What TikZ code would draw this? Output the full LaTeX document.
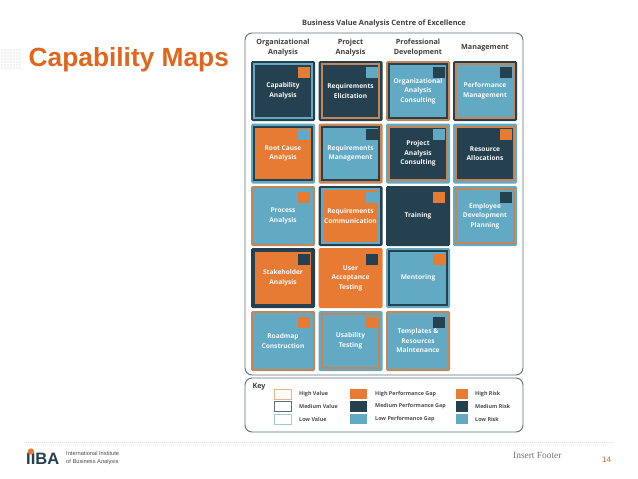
\documentclass[tikz,border=0pt]{standalone}
\usepackage{fontspec}
\setmainfont{Liberation Sans}
\newfontfamily\mapfont{Open Sans}
\newfontfamily\footfont{Liberation Serif}
\usepackage{xcolor}
\usetikzlibrary{calc}
\definecolor{maporange}{HTML}{E87B34}
\definecolor{mapdark}{HTML}{25404F}
\definecolor{mapblue}{HTML}{62A9C4}
\definecolor{mapring}{HTML}{C58557}
\definecolor{mapframe}{HTML}{5F6F78}
\definecolor{maptitle}{HTML}{E0661E}
\tikzset{
  line join=round,
  tileouter/.style={rounded corners=1.5pt, minimum width=64pt, minimum height=60pt, inner sep=0pt},
  tilering/.style={line width=2.4pt, minimum width=57.5pt, minimum height=53.5pt, inner sep=0pt},
  tilerisk/.style={minimum width=12pt, minimum height=11pt, inner sep=0pt},
  tiletext/.style={text=white!94!mapblue, align=center, font=\mapfont\bfseries\fontsize{6.6}{9.5}\selectfont},
  colhead/.style={text=black!75, align=center, font=\mapfont\bfseries\fontsize{7.2}{10.5}\selectfont},
  frame/.style={draw=mapframe, line width=0.9pt, rounded corners=7pt, fill=white},
  valuekey/.style={line width=0.9pt, fill=white, minimum width=17pt, minimum height=10pt, inner sep=0pt},
  gapkey/.style={minimum width=17pt, minimum height=10.5pt, inner sep=0pt},
  riskkey/.style={minimum width=12pt, minimum height=10.5pt, inner sep=0pt},
  keytext/.style={anchor=west, text=black!70, inner sep=0pt, font=\mapfont\bfseries\fontsize{5.4}{6}\selectfont},
  griddot/.style={fill=black!5}
}
\newcommand{\maptile}[8]{%
  \node[tileouter, fill=#4] (#1) at (#2,#3) {};
  \node[tilering, draw=#5, fill=#6] (#1inner) at (#2,#3) {};
  \node[tilerisk, fill=#7] (#1risk) at ($(#2,#3)+(21,-19)$) {};
  \node[tiletext] (#1text) at (#2,#3) {#8};
}
\begin{document}
\begin{tikzpicture}[x=1pt, y=-1pt]
  \useasboundingbox (0,0) rectangle (638,479);
  \fill[white] (0,0) rectangle (638,479);

  % dots next to the heading
  \foreach \i in {0,...,6} \foreach \j in {0,...,6}
    \fill[griddot] (0.5+3*\i,48.5+3*\j) rectangle ++(2,2);
  \node[anchor=west, inner sep=0pt, text=maptitle, font=\bfseries\fontsize{26.3}{30}\selectfont] (heading) at (28.5,60) {Capability Maps};

  % main map
  \node[text=black!75, font=\mapfont\bfseries\fontsize{7.4}{9}\selectfont] (maptitle) at (384,24) {Business Value Analysis Centre of Excellence};
  \draw[frame] (245,33) rectangle (523,375);
  \node[colhead] (orghead) at (283,47.5) {Organizational\\Analysis};
  \node[colhead] (projhead) at (350.5,47.5) {Project\\Analysis};
  \node[colhead] (devhead) at (418,47.5) {Professional\\Development};
  \node[colhead] (mgmthead) at (485,47.5) {Management};

  \maptile{capability}{283}{91}{mapdark}{mapblue}{mapdark}{maporange}{Capability\\Analysis}
  \maptile{elicitation}{350.5}{91}{mapdark}{mapring}{mapdark}{mapblue}{Requirements\\Elicitation}
  \maptile{orgconsult}{418}{91}{mapring}{mapdark}{mapblue}{mapdark}{Organizational\\Analysis\\Consulting}
  \maptile{performance}{485}{91}{mapdark}{mapring}{mapblue}{mapdark}{Performance\\Management}

  \maptile{rootcause}{283}{153.5}{mapblue}{mapdark}{maporange}{mapblue}{Root Cause\\Analysis}
  \maptile{reqmgmt}{350.5}{153.5}{mapring}{mapdark}{mapblue}{mapdark}{Requirements\\Management}
  \maptile{projconsult}{418}{153.5}{mapblue}{mapring}{mapdark}{mapblue}{Project\\Analysis\\Consulting}
  \maptile{resource}{485}{153.5}{mapblue}{mapring}{mapdark}{maporange}{Resource\\Allocations}

  \maptile{process}{283}{216}{mapring}{mapblue}{mapblue}{maporange}{Process\\Analysis}
  \maptile{reqcomm}{350.5}{216}{mapdark}{mapblue}{maporange}{mapblue}{Requirements\\Communication}
  \maptile{training}{418}{216}{mapdark}{mapdark}{mapdark}{maporange}{Training}
  \maptile{employee}{485}{216}{mapblue}{mapring}{mapblue}{mapdark}{Employee\\Development\\Planning}

  \maptile{stakeholder}{283}{278}{mapdark}{mapdark}{maporange}{mapdark}{Stakeholder\\Analysis}
  \maptile{acceptance}{350.5}{278}{maporange}{maporange}{maporange}{mapdark}{User\\Acceptance\\Testing}
  \maptile{mentoring}{418}{278}{mapblue}{mapdark}{mapblue}{maporange}{Mentoring}

  \maptile{roadmap}{283}{341}{mapring}{mapblue}{mapblue}{maporange}{Roadmap\\Construction}
  \maptile{usability}{350.5}{341}{mapblue}{mapring}{mapblue}{maporange}{Usability\\Testing}
  \maptile{templates}{418}{341}{mapring}{mapblue}{mapblue}{mapdark}{Templates \&\\Resources\\Maintenance}

  % key
  \draw[frame] (245,378) rectangle (523,432);
  \node[colhead] (keyhead) at (259,387) {Key};

  \node[valuekey, draw=maporange!60] (highvalue) at (283,394) {};
  \node[valuekey, draw=mapdark!75] (medvalue) at (283,406.5) {};
  \node[valuekey, draw=mapblue!60] (lowvalue) at (283,419) {};
  \node[keytext] (highvaluetext) at (299,394) {High Value};
  \node[keytext] (medvaluetext) at (299,406.5) {Medium Value};
  \node[keytext] (lowvaluetext) at (299,419) {Low Value};

  \node[gapkey, fill=maporange] (highgap) at (358.5,394) {};
  \node[gapkey, fill=mapdark] (medgap) at (358.5,406.5) {};
  \node[gapkey, fill=mapblue] (lowgap) at (358.5,419) {};
  \node[keytext] (highgaptext) at (375,394) {High Performance Gap};
  \node[keytext] (medgaptext) at (375,406.5) {Medium Performance Gap};
  \node[keytext] (lowgaptext) at (375,419) {Low Performance Gap};

  \node[riskkey, fill=maporange] (highrisk) at (462,394) {};
  \node[riskkey, fill=mapdark] (medrisk) at (462,406.5) {};
  \node[riskkey, fill=mapblue] (lowrisk) at (462,419) {};
  \node[keytext] (highrisktext) at (475,394) {High Risk};
  \node[keytext] (medrisktext) at (475,406.5) {Medium Risk};
  \node[keytext] (lowrisktext) at (475,419) {Low Risk};

  % footer
  \draw[black!12, line width=1pt, dash pattern=on 1pt off 1pt] (24,442) -- (613,442);
  \node[anchor=base west, inner sep=0pt, text=mapdark, font=\bfseries\fontsize{16.5}{17}\selectfont] (logo) at (26,464.5) {IIBA};
  \fill[maporange] (31,451.5) circle (3.2);
  \node[anchor=west, inner sep=0pt, align=left, text=black!70, font=\fontsize{5.7}{8.2}\selectfont] (logotext) at (66,458) {International Institute\\of Business Analysis};
  \node[anchor=west, inner sep=0pt, text=black!55, font=\footfont\fontsize{9.4}{11}\selectfont] (footer) at (513,455) {Insert Footer};
  \node[anchor=west, inner sep=0pt, text=maptitle, font=\fontsize{8}{10}\selectfont] (pagenum) at (602,460) {14};
\end{tikzpicture}
\end{document}
